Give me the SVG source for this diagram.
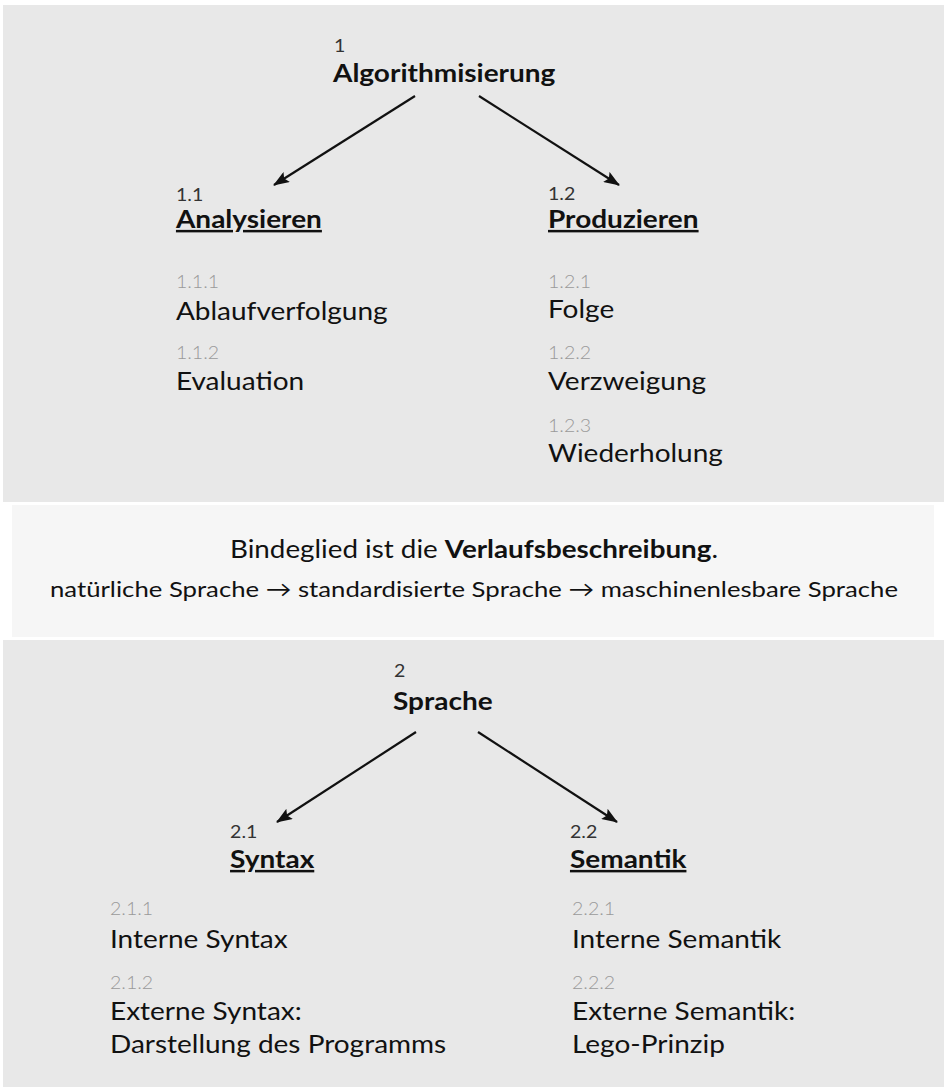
<svg xmlns="http://www.w3.org/2000/svg" width="947" height="1087" viewBox="0 0 947 1087">
<defs>
<marker id="ah" markerWidth="16" markerHeight="12" refX="15" refY="6" orient="auto" markerUnits="userSpaceOnUse">
<path d="M0,0 L16,6 L0,12 L3,6 Z" fill="#111"/>
</marker>
<style>
text{font-family:Lato,"Liberation Sans",sans-serif;fill:#111}
.num{font-size:17.5px;fill:#333}
.sub{font-size:17.5px;fill:#9a9a9a;font-weight:300}
.t1{font-size:25px;font-weight:bold}
.t2{font-size:25px;font-weight:bold;text-decoration:underline}
.it{font-size:25px}
.conn line{stroke:#111;stroke-width:2.2;marker-end:url(#ah)}
</style>
</defs>
<rect width="947" height="1087" fill="#ffffff"/>
<rect x="3" y="5" width="941" height="497" fill="#e8e8e8"/>
<rect x="12" y="505" width="922" height="132" fill="#f6f6f6"/>
<rect x="3" y="640" width="941" height="447" fill="#e8e8e8"/>

<g transform="scale(1.12 1)">
<g id="n1"><text x="298.2" y="52" class="num">1</text><text x="297.3" y="82" class="t1">Algorithmisierung</text></g>
<g id="n1_1"><text x="157.1" y="201" class="num">1.1</text><text x="157.1" y="228" class="t2">Analysieren</text></g>
<g id="n1_1_1"><text x="157.1" y="288" class="sub">1.1.1</text><text x="157.1" y="320" class="it">Ablaufverfolgung</text></g>
<g id="n1_1_2"><text x="157.1" y="359" class="sub">1.1.2</text><text x="157.1" y="390" class="it">Evaluation</text></g>
<g id="n1_2"><text x="489.3" y="200" class="num">1.2</text><text x="489.3" y="228" class="t2">Produzieren</text></g>
<g id="n1_2_1"><text x="489.3" y="288" class="sub">1.2.1</text><text x="489.3" y="318" class="it">Folge</text></g>
<g id="n1_2_2"><text x="489.3" y="359" class="sub">1.2.2</text><text x="489.3" y="390" class="it">Verzweigung</text></g>
<g id="n1_2_3"><text x="489.3" y="432" class="sub">1.2.3</text><text x="489.3" y="462" class="it">Wiederholung</text></g>

<g id="n2"><text x="351.8" y="677" class="num">2</text><text x="350.9" y="710" class="t1">Sprache</text></g>
<g id="n2_1"><text x="205.4" y="838" class="num">2.1</text><text x="205.4" y="868" class="t2">Syntax</text></g>
<g id="n2_1_1"><text x="98.2" y="915" class="sub">2.1.1</text><text x="98.2" y="948" class="it">Interne Syntax</text></g>
<g id="n2_1_2"><text x="98.2" y="989" class="sub">2.1.2</text><text x="98.2" y="1020" class="it">Externe Syntax:</text><text x="98.2" y="1053" class="it">Darstellung des Programms</text></g>
<g id="n2_2"><text x="508.9" y="838" class="num">2.2</text><text x="508.9" y="868" class="t2">Semantik</text></g>
<g id="n2_2_1"><text x="510.7" y="915" class="sub">2.2.1</text><text x="510.7" y="948" class="it">Interne Semantik</text></g>
<g id="n2_2_2"><text x="510.7" y="989" class="sub">2.2.2</text><text x="510.7" y="1020" class="it">Externe Semantik:</text><text x="510.7" y="1053" class="it">Lego-Prinzip</text></g>
</g>

<g id="bridge">
<text x="474" y="558" text-anchor="middle" font-size="25" textLength="488" lengthAdjust="spacingAndGlyphs">Bindeglied ist die <tspan font-weight="bold">Verlaufsbeschreibung</tspan>.</text>
<text x="474" y="597" text-anchor="middle" font-size="22" textLength="848" lengthAdjust="spacingAndGlyphs">natürliche Sprache → standardisierte Sprache → maschinenlesbare Sprache</text>
</g>

<g class="conn">
<line x1="415" y1="96" x2="274" y2="185"/>
<line x1="479" y1="96" x2="619" y2="185"/>
<line x1="416" y1="732" x2="277" y2="822"/>
<line x1="478" y1="732" x2="617" y2="822"/>
</g>
</svg>
